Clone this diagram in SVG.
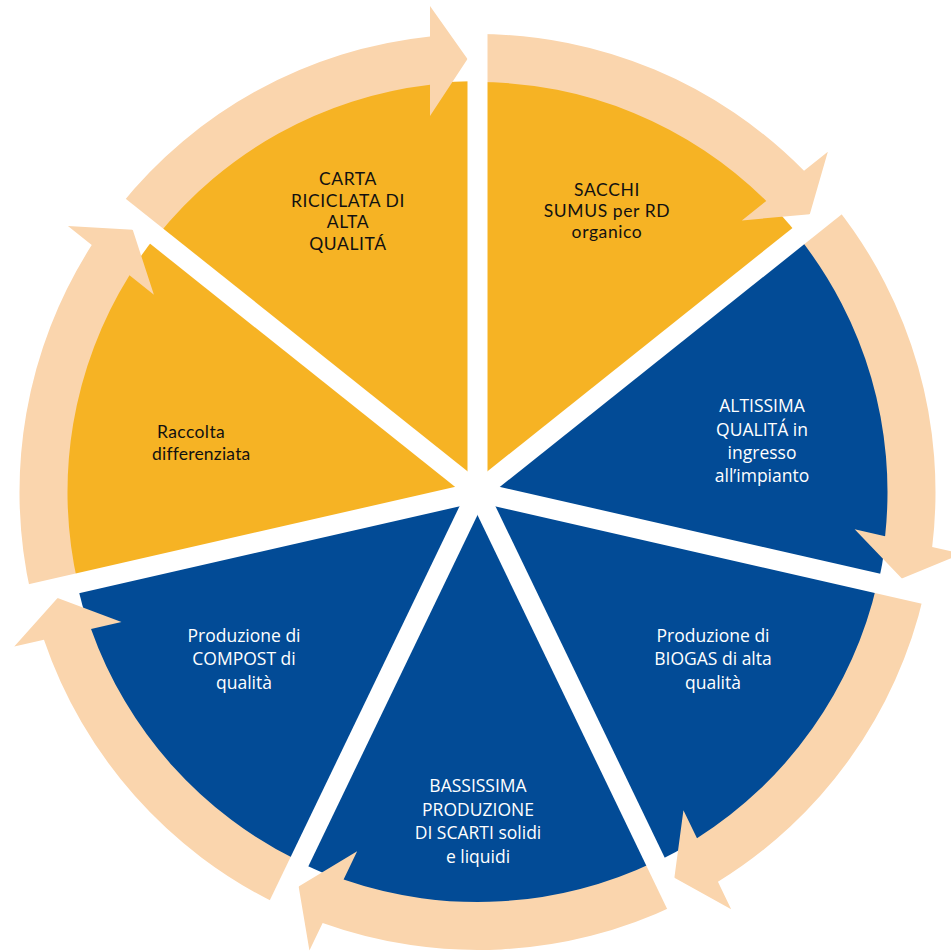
<svg xmlns="http://www.w3.org/2000/svg" width="951" height="952" viewBox="0 0 951 952">
  <defs>
    <style>
      .yel { fill: #F6B324; }
      .blu { fill: #024B96; }
      .arr { fill: #FAD5AD; }
      .gap { stroke: #FFFFFF; stroke-width: 20; stroke-linecap: butt; fill: none; }
      .tk { font-family: Lato, "Open Sans", "Liberation Sans", sans-serif; font-size: 17.5px; letter-spacing: 0.6px; fill: #111111; text-anchor: middle; }
      .tw { font-family: "Open Sans", "Noto Sans", "Liberation Sans", sans-serif; font-size: 17.5px; fill: #FFFFFF; text-anchor: middle; }
    </style>
    <path id="arrow" d="M -358.08 -285.56 A 458 458 0 0 1 -47.5 -455.53 L -47.5 -486 L -10 -433 L -47.5 -376 L -47.5 -407.24 A 410 410 0 0 0 -320.55 -255.63 Z"/>
  </defs>
  <rect width="951" height="952" fill="#FFFFFF"/>

  <g transform="translate(477.5,492)">
    <g id="node-sacchi">
      <path class="yel" d="M 0 0 L 0 -411 A 411 411 0 0 1 321.33 -256.25 Z"/>
    </g>
    <g id="node-altissima">
      <path class="blu" d="M 0 0 L 321.33 -256.25 A 411 411 0 0 1 400.70 91.46 Z"/>
    </g>
    <g id="node-biogas">
      <path class="blu" d="M 0 0 L 400.70 91.46 A 411 411 0 0 1 178.32 370.30 Z"/>
    </g>
    <g id="node-bassissima">
      <path class="blu" d="M 0 0 L 178.32 370.30 A 411 411 0 0 1 -178.32 370.30 Z"/>
    </g>
    <g id="node-compost">
      <path class="blu" d="M 0 0 L -178.32 370.30 A 411 411 0 0 1 -400.70 91.46 Z"/>
    </g>
    <g id="node-raccolta">
      <path class="yel" d="M 0 0 L -400.70 91.46 A 411 411 0 0 1 -321.33 -256.25 Z"/>
    </g>
    <g id="node-carta">
      <path class="yel" d="M 0 0 L -321.33 -256.25 A 411 411 0 0 1 0 -411 Z"/>
    </g>

    <g id="connectors">
      <use href="#arrow" class="arr"/>
      <use href="#arrow" class="arr" transform="rotate(51.4286)"/>
      <use href="#arrow" class="arr" transform="rotate(102.8571)"/>
      <use href="#arrow" class="arr" transform="rotate(154.2857)"/>
      <use href="#arrow" class="arr" transform="rotate(205.7143)"/>
      <use href="#arrow" class="arr" transform="rotate(257.1429)"/>
      <use href="#arrow" class="arr" transform="rotate(308.5714)"/>
    </g>

    <g id="separators">
      <line class="gap" x1="0" y1="0" x2="0" y2="-466"/>
      <line class="gap" x1="0" y1="0" x2="0" y2="-466" transform="rotate(51.4286)"/>
      <line class="gap" x1="0" y1="0" x2="0" y2="-466" transform="rotate(102.8571)"/>
      <line class="gap" x1="0" y1="0" x2="0" y2="-466" transform="rotate(154.2857)"/>
      <line class="gap" x1="0" y1="0" x2="0" y2="-466" transform="rotate(205.7143)"/>
      <line class="gap" x1="0" y1="0" x2="0" y2="-466" transform="rotate(257.1429)"/>
      <line class="gap" x1="0" y1="0" x2="0" y2="-466" transform="rotate(308.5714)"/>
    </g>
  </g>

  <g id="labels">
    <g id="label-carta">
      <text class="tk" x="348" y="185">CARTA</text>
      <text class="tk" x="348" y="206.7">RICICLATA DI</text>
      <text class="tk" x="348" y="228.4">ALTA</text>
      <text class="tk" x="348" y="250.1">QUALITÁ</text>
    </g>
    <g id="label-sacchi">
      <text class="tk" x="607" y="196">SACCHI</text>
      <text class="tk" x="607" y="217.2">SUMUS per RD</text>
      <text class="tk" x="607" y="238.4">organico</text>
    </g>
    <g id="label-altissima">
      <text class="tw" x="762" y="412">ALTISSIMA</text>
      <text class="tw" x="762" y="435.5">QUALITÁ in</text>
      <text class="tw" x="762" y="458.5">ingresso</text>
      <text class="tw" x="762" y="481.5">all’impianto</text>
    </g>
    <g id="label-biogas">
      <text class="tw" x="713" y="642">Produzione di</text>
      <text class="tw" x="713" y="665">BIOGAS di alta</text>
      <text class="tw" x="713" y="688.5">qualità</text>
    </g>
    <g id="label-bassissima">
      <text class="tw" x="478" y="792">BASSISSIMA</text>
      <text class="tw" x="478" y="815.5">PRODUZIONE</text>
      <text class="tw" x="478" y="839">DI SCARTI solidi</text>
      <text class="tw" x="478" y="862.5">e liquidi</text>
    </g>
    <g id="label-compost">
      <text class="tw" x="244" y="642">Produzione di</text>
      <text class="tw" x="244" y="665">COMPOST di</text>
      <text class="tw" x="244" y="688.5">qualità</text>
    </g>
    <g id="label-raccolta">
      <text class="tk" x="157" y="438" style="text-anchor:start;letter-spacing:0.4px">Raccolta</text>
      <text class="tk" x="152" y="460" style="text-anchor:start;letter-spacing:0.2px">differenziata</text>
    </g>
  </g>
</svg>
